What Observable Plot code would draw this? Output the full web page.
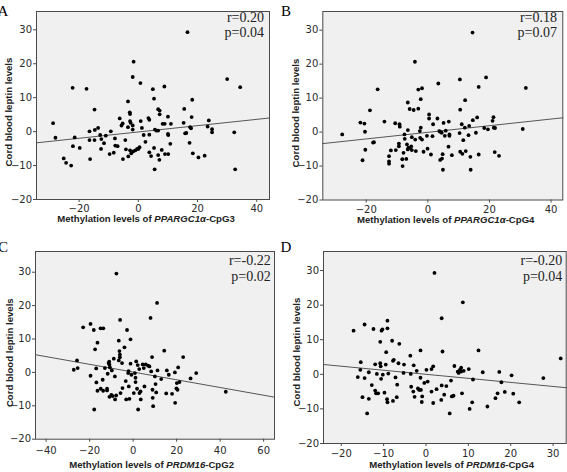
<!DOCTYPE html>
<html><head><meta charset="utf-8">
<script src="https://cdn.jsdelivr.net/npm/d3@7"></script>
<script src="https://cdn.jsdelivr.net/npm/@observablehq/plot@0.6"></script>
<style>
body{margin:0;background:#fff;}
#wrap{position:relative;width:567px;height:472px;overflow:hidden;background:#fff;}
#wrap svg{position:absolute;overflow:visible;}
</style></head><body><div id="wrap"></div>
<script>
// ---------- data ----------
const pointsA = [[-28.8,2.5],[-28.0,-1.8],[-22.2,12.9],[-22.1,-4.3],[-21.5,-1.7],[-19.8,-4.8],[-25.2,-7.9],[-24.4,-9.2],[-22.7,-10.0],[-17.5,12.6],[-14.8,6.5],[-16.5,0.1],[-16.5,-2.5],[-16.3,-8.1],[-14.7,0.5],[-13.6,1.1],[-14.8,-2.5],[-12.9,-1.0],[-12.5,-2.2],[-12.6,-5.1],[-11.6,-3.4],[-11.0,-1.2],[-9.3,0.1],[-9.7,-6.6],[-8.3,-6.2],[-7.9,-2.0],[-7.8,-4.1],[-7.0,-4.3],[-6.3,3.9],[-5.7,1.8],[-5.3,2.4],[-5.2,-8.1],[-4.4,-2.5],[-4.2,-5.2],[-3.5,8.9],[-3.5,1.3],[-2.9,5.7],[-2.8,5.2],[-2.8,3.1],[-2.6,2.6],[-2.8,-5.5],[-3.4,-7.3],[-2.4,-6.4],[-1.9,16.1],[-1.6,20.6],[-1.9,1.8],[-1.9,0.6],[-1.7,-5.8],[-1.0,-5.5],[-0.4,-5.1],[0.0,-5.1],[0.4,-4.6],[0.7,14.3],[0.8,3.1],[1.2,1.1],[1.8,-1.0],[2.4,-3.0],[3.4,4.0],[3.7,3.5],[3.7,-0.9],[3.7,-6.1],[4.3,-7.2],[4.9,12.5],[5.3,9.7],[5.3,-4.8],[5.5,-11.1],[5.6,0.6],[6.1,0.3],[6.7,0.3],[6.7,6.6],[7.2,6.2],[7.2,5.1],[6.7,-6.9],[7.1,-8.3],[7.9,-5.4],[8.2,2.3],[8.8,13.3],[8.9,2.3],[9.0,-6.6],[10.0,4.4],[10.0,-0.7],[10.1,-1.0],[10.1,-6.6],[11.0,2.3],[10.8,-3.6],[15.5,6.7],[15.3,2.6],[16.2,-0.4],[15.8,-0.5],[16.6,29.3],[17.3,-3.3],[17.8,1.0],[18.0,4.3],[18.2,9.4],[17.5,1.3],[18.4,-6.4],[20.3,-7.6],[22.4,-7.1],[23.4,1.5],[23.8,3.3],[24.9,0.7],[24.9,-0.2],[30.0,15.5],[34.4,13.1],[32.4,-0.2],[32.7,-11.1]];
const pointsB = [[-27.8,-0.7],[-21.9,2.8],[-20.6,2.5],[-20.4,0.1],[-20.3,-5.2],[-21.2,-8.3],[-18.8,6.4],[-16.3,12.6],[-17.5,-3.0],[-17.8,-3.1],[-14.1,3.1],[-10.6,2.6],[-9.2,2.3],[-9.1,1.6],[-12.0,-5.4],[-10.4,-5.3],[-12.6,-7.1],[-12.6,-8.6],[-12.6,-9.3],[-9.4,-3.4],[-9.4,-4.2],[-8.3,-8.0],[-8.2,-10.0],[-7.9,-6.1],[-7.6,-0.7],[-7.5,-2.0],[-7.0,-7.9],[-6.8,-3.6],[-6.5,0.6],[-6.5,8.7],[-5.9,6.8],[-6.5,-5.1],[-6.3,-4.6],[-5.7,-4.6],[-5.2,-5.3],[-5.2,-1.5],[-5.4,-4.2],[-4.6,6.5],[-4.2,20.7],[-4.1,-2.2],[-3.9,-5.6],[-3.1,6.9],[-3.1,12.5],[-2.6,0.3],[-2.5,-1.7],[-2.3,9.7],[-1.9,12.9],[-2.3,1.3],[-1.9,-2.2],[-1.4,-5.8],[-0.3,-1.1],[-0.1,-4.9],[0.4,5.2],[0.4,4.0],[1.0,-6.6],[1.5,-1.2],[1.7,2.3],[3.1,4.0],[3.4,14.3],[3.7,0.3],[4.0,0.1],[4.0,-8.2],[4.6,-7.8],[4.5,-0.2],[4.8,-6.5],[4.9,-11.1],[5.1,2.7],[5.5,-1.1],[5.8,0.4],[6.7,-4.3],[6.8,3.1],[7.0,-0.7],[7.0,-1.1],[7.8,-6.8],[10.3,-0.3],[10.4,15.5],[10.5,6.6],[10.5,-5.8],[11.0,2.3],[11.2,-6.4],[11.5,-2.4],[12.0,1.3],[12.1,9.4],[12.3,-5.6],[13.2,-0.9],[13.4,1.8],[13.8,-7.3],[13.9,-11.1],[14.5,29.3],[14.6,3.5],[15.6,-0.2],[16.0,4.3],[16.5,13.3],[16.5,-6.6],[18.3,1.2],[18.9,16.1],[19.5,0.8],[21.0,3.3],[21.3,4.4],[21.4,1.3],[21.8,1.2],[21.7,-5.9],[23.1,-7.0],[30.8,0.9],[31.8,13.0]];
const pointsC = [[-27.3,0.8],[-25.8,3.6],[-25.5,1.3],[-23.0,13.5],[-19.6,14.5],[-19.6,-1.0],[-18.1,12.7],[-17.5,6.9],[-17.9,-11.1],[-17.0,1.2],[-16.9,-3.0],[-16.4,8.9],[-16.4,-5.5],[-15.0,13.2],[-14.9,-4.9],[-13.7,13.2],[-14.0,-2.2],[-13.8,-5.5],[-13.0,1.3],[-12.0,-4.9],[-12.0,-5.4],[-11.7,-0.4],[-11.3,2.8],[-11.0,3.2],[-10.9,2.3],[-10.9,-7.3],[-10.7,1.5],[-10.0,-6.7],[-9.8,0.6],[-9.4,-7.1],[-8.9,4.1],[-8.4,-1.2],[-8.3,-8.1],[-7.8,-6.9],[-7.7,29.6],[-6.6,9.5],[-6.6,3.6],[-6.3,6.4],[-6.1,5.3],[-6.0,15.7],[-6.1,4.5],[-5.8,-6.2],[-5.1,2.8],[-4.9,-4.7],[-4.0,7.5],[-3.4,-2.6],[-3.2,-8.1],[-2.8,12.7],[-2.3,-0.2],[-2.1,0.4],[-2.0,-4.2],[-1.7,-7.9],[-1.2,9.9],[-1.2,2.6],[-0.8,-0.7],[0.3,-6.2],[0.8,-0.2],[1.1,-1.6],[1.1,-2.9],[1.4,3.3],[1.8,-4.9],[2.1,2.2],[2.3,-11.1],[2.8,1.0],[2.9,-6.2],[3.4,-5.7],[3.5,-8.1],[4.4,2.4],[4.9,1.3],[5.2,-4.2],[5.8,2.4],[6.9,2.0],[7.5,1.8],[8.0,16.3],[8.7,4.6],[8.9,-5.2],[9.0,-7.6],[9.2,-10.1],[8.3,0.3],[10.0,-1.2],[10.3,-3.5],[10.6,-6.0],[11.0,20.8],[11.2,0.6],[12.9,-2.0],[14.3,6.5],[15.2,-6.3],[15.5,0.6],[16.4,-0.7],[17.9,-6.4],[19.2,0.0],[19.3,-9.1],[20.1,-3.2],[20.4,-5.2],[20.7,1.5],[21.3,-2.9],[19.9,-4.8],[23.0,4.6],[26.4,-1.8],[29.0,-0.2],[42.6,-5.8]];
const pointsD = [[-17.1,12.6],[-14.5,14.4],[-16.1,-0.8],[-15.4,3.5],[-15.5,1.3],[-15.0,-6.6],[-14.5,-1.1],[-13.9,-11.3],[-13.5,0.6],[-13.5,-7.1],[-12.8,-3.1],[-12.4,13.1],[-12.0,2.9],[-12.0,-4.7],[-11.8,-5.5],[-11.3,-5.5],[-11.6,0.1],[-10.8,9.4],[-10.8,3.2],[-10.7,2.3],[-10.6,-1.3],[-10.5,12.6],[-10.3,13.0],[-10.2,-0.1],[-9.8,-5.3],[-9.5,2.8],[-9.4,6.4],[-9.1,15.5],[-9.1,13.3],[-9.2,-7.2],[-9.1,-8.1],[-8.9,0.2],[-8.0,9.7],[-7.8,3.9],[-7.6,4.2],[-7.8,-7.7],[-7.2,-0.9],[-6.9,-6.6],[-6.8,-3.0],[-6.5,3.2],[-6.3,8.8],[-5.3,0.4],[-5.2,2.8],[-3.7,5.4],[-3.6,0.1],[-3.5,-3.6],[-3.0,-5.0],[-2.9,2.6],[-2.7,-6.5],[-2.2,1.0],[-1.9,-4.1],[-1.6,-4.5],[-1.3,6.9],[-1.3,-1.0],[-1.2,-4.5],[-1.0,-8.0],[-0.9,-6.4],[-0.4,-2.5],[0.1,1.3],[0.4,-2.1],[1.3,-5.0],[1.3,1.5],[1.7,2.3],[1.7,-8.3],[2.0,29.3],[2.5,-4.3],[3.6,-7.4],[3.7,-3.2],[3.7,16.2],[3.9,6.6],[4.3,-5.9],[4.8,-3.4],[5.6,-11.3],[5.9,-1.8],[6.1,-6.4],[6.5,-6.2],[6.7,2.4],[7.5,0.8],[7.7,0.4],[8.0,1.3],[8.3,1.9],[8.3,0.8],[8.5,-5.5],[8.7,20.8],[8.9,1.0],[10.1,1.5],[10.3,-10.0],[10.9,-8.1],[11.1,-1.5],[12.4,6.9],[13.4,0.6],[14.5,-9.3],[17.3,0.7],[16.9,-5.5],[16.4,-6.9],[17.8,-2.3],[18.6,-5.1],[20.2,-0.3],[20.6,-5.6],[22.0,-8.1],[27.7,-1.1],[31.8,4.6]];

// fit line coefficients [intercept, slope]
const fitA = [-0.1, 0.093];
const fitB = [-0.07, 0.0976];
const fitC = [0.1, -0.1156];
const fitD = [0.0, -0.117];

const yTicks = [-20, -10, 0, 10, 20, 30];
const xTicksA = [-20, 0, 20, 40];
const xTicksB = [-20, 0, 20, 40];
const xTicksC = [-40, -20, 0, 20, 40, 60];
const xTicksD = [-20, -10, 0, 10, 20, 30];

const rLabels = ["r=0.20", "r=0.18", "r=-0.22", "r=-0.20"];
const pLabels = ["p=0.04", "p=0.07", "p=0.02", "p=0.04"];
const panelLetters = ["A", "B", "C", "D"];
const geneNames = ["PPARGC1\u03B1", "PPARGC1\u03B1", "PRDM16", "PRDM16"];
const siteNames = ["-CpG3", "-CpG4", "-CpG2", "-CpG4"];
const yTitle = "Cord blood leptin levels";
const xTitlePrefix = "Methylation levels of ";

// ---------- layout ----------
const layout = [
  {left:0,   top:0,   w:283, h:236, ml:36,   mr:14,  mt:11, mb:37,   xpad:2, xd:[-34.4,44.3], yd:[-20,35.4], ylab:[8,112],    xlab:[57.3,221.7], stat:[264,22,37],   letter:[3,16]},
  {left:283, top:0,   w:284, h:236, ml:39.3, mr:4.7, mt:11, mb:36.5, xpad:3, xd:[-34.1,43.8], yd:[-20,35.5], ylab:[12,113],   xlab:[74,223],     stat:[274,22,37],   letter:[3,16]},
  {left:0,   top:236, w:283, h:236, ml:35,   mr:9,   mt:15, mb:33.3, xpad:5, xd:[-44.9,65.0], yd:[-20,36.2], ylab:[9,116.7],  xlab:[69.3,232],   stat:[270.7,29,45], letter:[3,16]},
  {left:283, top:236, w:284, h:236, ml:40,   mr:1.3, mt:15, mb:29,   xpad:3, xd:[-24.2,33.1], yd:[-20,35.5], ylab:[13.3,116], xlab:[86.3,231.5], stat:[279.3,29,45], letter:[3,16]}
];
const pointSets = [pointsA, pointsB, pointsC, pointsD];
const fits = [fitA, fitB, fitC, fitD];
const xTickSets = [xTicksA, xTicksB, xTicksC, xTicksD];

const wrap = document.getElementById("wrap");
layout.forEach((L, i) => {
  const fit = fits[i];
  const fitLine = L.xd.map(x => ({x, y: fit[0] + fit[1] * x}));
  const svg = Plot.plot({
    width: L.w, height: L.h,
    marginLeft: L.ml, marginRight: L.mr, marginTop: L.mt, marginBottom: L.mb,
    style: {fontFamily: "'DejaVu Sans', Verdana, sans-serif", fontSize: "10px", color: "#2a2a2a", background: "transparent"},
    x: {domain: L.xd},
    y: {domain: L.yd},
    marks: [
      Plot.frame({fill: "#f0f0f0", stroke: "none"}),
      Plot.line(fitLine, {x: "x", y: "y", stroke: "#555", strokeWidth: 1}),
      Plot.dot(pointSets[i], {x: d => d[0], y: d => d[1], r: 1.9, fill: "#000", stroke: "none"}),
      Plot.frame({stroke: "#4a4a4a", strokeWidth: 1}),
      Plot.axisX({ticks: xTickSets[i], tickSize: 3, tickPadding: L.xpad, label: null, stroke: "#4a4a4a"}),
      Plot.axisY({ticks: yTicks, tickSize: 3, tickPadding: 1.5, label: null, stroke: "#4a4a4a"})
    ]
  });
  svg.style.left = L.left + "px";
  svg.style.top = L.top + "px";
  const s = d3.select(svg);
  // panel letter
  s.append("text").attr("x", L.letter[0]).attr("y", L.letter[1])
    .attr("font-family", "'Liberation Serif', 'Times New Roman', serif").attr("font-size", 15).attr("fill", "#000")
    .text(panelLetters[i]);
  // r, p
  s.append("text").attr("x", L.stat[0]).attr("y", L.stat[1]).attr("text-anchor", "end")
    .attr("font-family", "'Liberation Serif', 'Times New Roman', serif").attr("font-size", 14).attr("fill", "#222")
    .text(rLabels[i]);
  s.append("text").attr("x", L.stat[0]).attr("y", L.stat[2]).attr("text-anchor", "end")
    .attr("font-family", "'Liberation Serif', 'Times New Roman', serif").attr("font-size", 14).attr("fill", "#222")
    .text(pLabels[i]);
  // y title
  s.append("text").attr("transform", `translate(${L.ylab[0] + 3.5},${L.ylab[1]}) rotate(-90)`)
    .attr("text-anchor", "middle").attr("font-family", "'Liberation Sans', Arial, sans-serif")
    .attr("font-size", 9.6).attr("font-weight", "bold").attr("fill", "#222").text(yTitle);
  // x title
  const xt = s.append("text").attr("x", L.xlab[0]).attr("y", L.xlab[1]).attr("text-anchor", "start")
    .attr("font-family", "'Liberation Sans', Arial, sans-serif").attr("font-size", 9.6).attr("font-weight", "bold").attr("fill", "#222");
  xt.append("tspan").text(xTitlePrefix);
  xt.append("tspan").attr("font-style", "italic").text(geneNames[i]);
  xt.append("tspan").text(siteNames[i]);
  wrap.appendChild(svg);
});
</script>
</body></html>
